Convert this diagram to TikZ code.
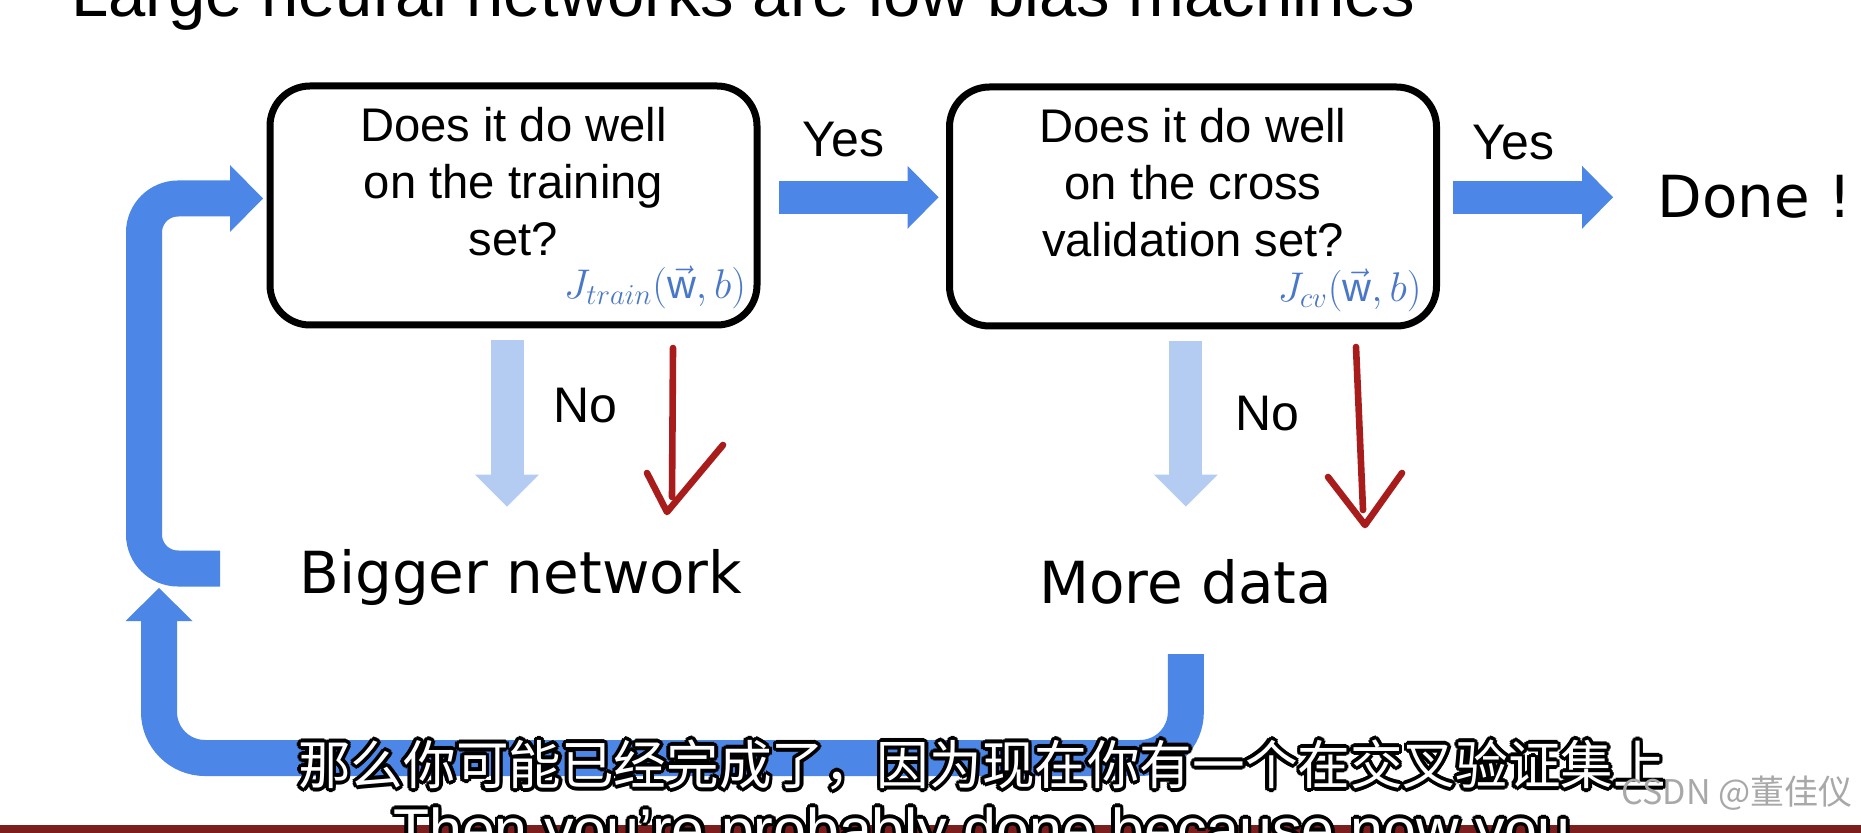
\documentclass[tikz,border=0pt]{standalone}
\usepackage{fontspec}
\setmainfont{Liberation Sans}
\newfontfamily\panelfont{DejaVu Sans}
\newfontfamily\cjkfont{Noto Sans CJK SC}
\usetikzlibrary{arrows.meta,positioning,calc}
\definecolor{FlowBlue}{HTML}{4C86E6}
\definecolor{PaleBlue}{HTML}{B4CCF2}
\definecolor{PenRed}{HTML}{A81C1C}
\definecolor{CostBlue}{HTML}{4A78C8}
\definecolor{BarRed}{HTML}{7A1E1E}
\definecolor{MarkGray}{HTML}{A8A8A8}
\newcommand{\lowpad}{\rule[-23.75pt]{0pt}{23.75pt}}
\tikzset{
  question/.style={draw=black, line width=3.5pt, rounded corners=20pt, align=center,
    minimum width=243.5pt, minimum height=119.5pt, font=\fontsize{23.6}{28.5}\selectfont},
  cost/.style={text=CostBlue, inner sep=0pt, anchor=base east, font=\fontsize{20}{20}\selectfont},
  answer/.style={inner sep=0pt, anchor=base west, font=\fontsize{25}{25}\selectfont},
  outcome/.style={inner sep=0pt, anchor=base west, font=\panelfont\fontsize{29}{29}\selectfont},
  headline/.style={inner sep=0pt, anchor=base west, font=\fontsize{33.5}{33.5}\selectfont},
  yeswire/.style={draw=FlowBlue, line width=16.5pt,
    -{Triangle[length=15.5pt,width=31.5pt,line width=0pt]}},
  nowire/.style={draw=PaleBlue, line width=16.5pt,
    -{Triangle[length=16pt,width=32pt,line width=0pt]}},
  loopwire/.style={draw=FlowBlue, line width=18pt,
    -{Triangle[length=16.5pt,width=33.5pt,line width=0pt]}},
  penstroke/.style={draw=PenRed, line width=3.3pt, line cap=round, line join=round},
  subtitle/.style={inner sep=0pt, text=white},
  cnline/.style={subtitle, font=\cjkfont\fontsize{26.3}{26.3}\selectfont},
  enline/.style={subtitle, anchor=north, font=\fontsize{29.5}{29.5}\selectfont},
  watermark/.style={inner sep=0pt, text=MarkGray, font=\cjkfont\fontsize{17}{17}\selectfont}
}
\begin{document}
\begin{tikzpicture}[x=0.5pt, y=-0.5pt]
  \clip (0,0) rectangle (1861,833);
  \fill[white] (0,0) rectangle (1861,833);
  \node[headline] (title) at (71,17) {Large neural networks are low bias machines};

  \node[question] (trainq) at (513.5,205.5) {Does it do well\\on the training\\set?\lowpad};
  \node[question] (cvq) at (1193,206.5) {Does it do well\\on the cross\\validation set?\lowpad};
  \node[cost] (trainj) at ([xshift=-7pt, yshift=15pt]trainq.south east) {$J_{train}(\vec{\mathrm{w}},b)$};
  \node[cost] (cvj) at ([xshift=-9pt, yshift=14pt]cvq.south east) {$J_{cv}(\vec{\mathrm{w}},b)$};

  \node[outcome] (done) at (1657,218) {Done !};
  \node[answer] (yes1) at (802,157) {Yes};
  \node[answer] (yes2) at (1472,160) {Yes};
  \node[answer] (no1) at (553,423) {No};
  \node[answer] (no2) at (1235,430) {No};
  \node[outcome] (bignet) at (299,593) {Bigger network};
  \node[outcome] (mdata) at (1039,603) {More data};

  \coordinate (jleft) at (144,380);
  \coordinate (ubase) at (159,758);
  \coordinate (loopin) at (159,588);

  \draw[yeswire, shorten <=9.25pt, shorten >=3.75pt] (trainq.east |- done.west) -- (cvq.west |- done.west);
  \draw[yeswire, shorten <=6.25pt, shorten >=22pt] (cvq.east |- done.west) -- (done.west);
  \draw[nowire, shorten <=5.75pt, shorten >=21pt] ([xshift=-3.25pt]trainq.south) -- ([xshift=-3.25pt]trainq.south |- bignet.north);
  \draw[nowire, shorten <=5.75pt, shorten >=26pt] (cvq.south -| mdata.north) -- (mdata.north);
  \draw[loopwire, rounded corners=17pt, shorten <=39.5pt, shorten >=1.75pt]
    ([yshift=4.25pt]bignet.west) -| (jleft) |- ([yshift=3.5pt]trainq.west);
  \draw[loopwire, rounded corners=23pt, shorten <=25pt] (mdata.south) |- (ubase) -- (loopin);

  \draw[penstroke] (673,348) -- (672,497);
  \draw[penstroke] (647,473) -- (667,512) -- (723,445);
  \draw[penstroke] (1356,347) -- (1363,510);
  \draw[penstroke] (1328,477) -- (1365,525) -- (1402,473);

  \fill[BarRed] (0,825) rectangle (1861,833);
  \foreach \ang in {0,30,...,330} {
    \node[cnline, text=black, shift={(\ang:1.8pt)}] at (982,765) {那么你可能已经完成了，因为现在你有一个在交叉验证集上};
    \node[enline, text=black, shift={(\ang:1.8pt)}] at (982,807) {Then you're probably done because now you};
  }
  \node[cnline] (cnsub) at (982,765) {那么你可能已经完成了，因为现在你有一个在交叉验证集上};
  \node[enline] (ensub) at (982,807) {Then you're probably done because now you};
  \node[watermark] (csdn) at (1737,793) {CSDN @董佳仪};
\end{tikzpicture}
\end{document}
